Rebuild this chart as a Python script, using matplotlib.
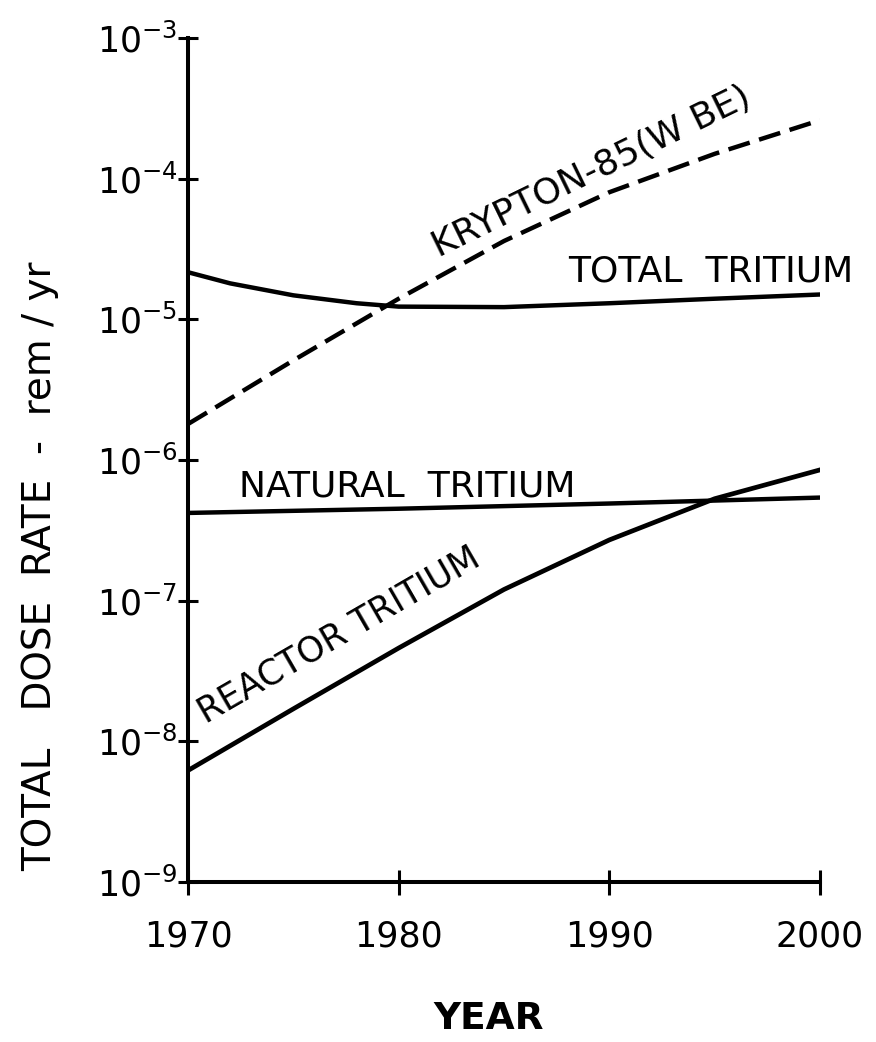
import numpy as np
import matplotlib
matplotlib.use("Agg")
import matplotlib.pyplot as plt

# values (rem/yr)
years = [1970, 1975, 1980, 1985, 1990, 1995, 2000]
krypton = [1.8e-6, 5.1e-6, 1.4e-5, 3.6e-5, 8.0e-5, 1.5e-4, 2.6e-4]
total_years = [1970, 1972, 1975, 1978, 1980, 1985, 1990, 1995, 2000]
total_tritium = [2.16e-5, 1.8e-5, 1.48e-5, 1.3e-5, 1.23e-5, 1.22e-5, 1.3e-5, 1.4e-5, 1.5e-5]
natural_years = [1970, 1980, 1990, 2000]
natural_tritium = [4.2e-7, 4.5e-7, 4.9e-7, 5.4e-7]
reactor_tritium = [6.2e-9, 1.7e-8, 4.6e-8, 1.2e-7, 2.7e-7, 5.3e-7, 8.5e-7]

xticks = [1970, 1980, 1990, 2000]
yticks = [1e-9, 1e-8, 1e-7, 1e-6, 1e-5, 1e-4, 1e-3]
ytick_labels = [r"$10^{-9}$", r"$10^{-8}$", r"$10^{-7}$", r"$10^{-6}$",
                r"$10^{-5}$", r"$10^{-4}$", r"$10^{-3}$"]

plt.rcParams['font.family'] = ['DejaVu Sans']
plt.rcParams['mathtext.default'] = 'regular'

fig = plt.figure(figsize=(8.76, 10.42), dpi=100)
ax = fig.add_axes([0.2146, 0.1536, 0.7215, 0.81])

ax.plot(years, krypton, color='black', lw=3.2, ls=(0, (5, 2.2)))
ax.plot(total_years, total_tritium, color='black', lw=3.2)
ax.plot(natural_years, natural_tritium, color='black', lw=3.2)
ax.plot(years, reactor_tritium, color='black', lw=3.4)

ax.set_yscale('log')
ax.set_xlim(1970, 2000)
ax.set_ylim(1e-9, 1e-3)
ax.set_xticks(xticks)
ax.set_yticks(yticks)
ax.set_yticklabels(ytick_labels)
ax.minorticks_off()
ax.tick_params(axis='both', direction='inout', width=2.2, labelsize=25)
ax.tick_params(axis='y', length=15, pad=0)
ax.tick_params(axis='x', length=18, pad=18)

for side in ['top', 'right']:
    ax.spines[side].set_visible(False)
for side in ['left', 'bottom']:
    ax.spines[side].set_linewidth(2.9)
ax.patch.set_alpha(0)

# curve labels
ax.text(1989.17, 1.11e-4, "KRYPTON-85(W BE)", fontsize=26, rotation=26,
        ha='center', va='center', rotation_mode='anchor')
ax.text(1994.8, 2.2e-5, "TOTAL  TRITIUM", fontsize=26, ha='center', va='center')
ax.text(1980.4, 6.5e-7, "NATURAL  TRITIUM", fontsize=26, ha='center', va='center')
ax.text(1977.17, 5.7e-8, "REACTOR TRITIUM", fontsize=25, rotation=30,
        ha='center', va='center', rotation_mode='anchor')

fig.text(40 / 876, 1 - 566 / 1042, "TOTAL   DOSE  RATE  -  rem / yr", fontsize=28,
         rotation=90, ha='center', va='center')
fig.text(489 / 876, 1 - 1019 / 1042, "YEAR", fontsize=27,
         fontweight='bold', ha='center', va='center')

fig.savefig("out.png", dpi=100)
